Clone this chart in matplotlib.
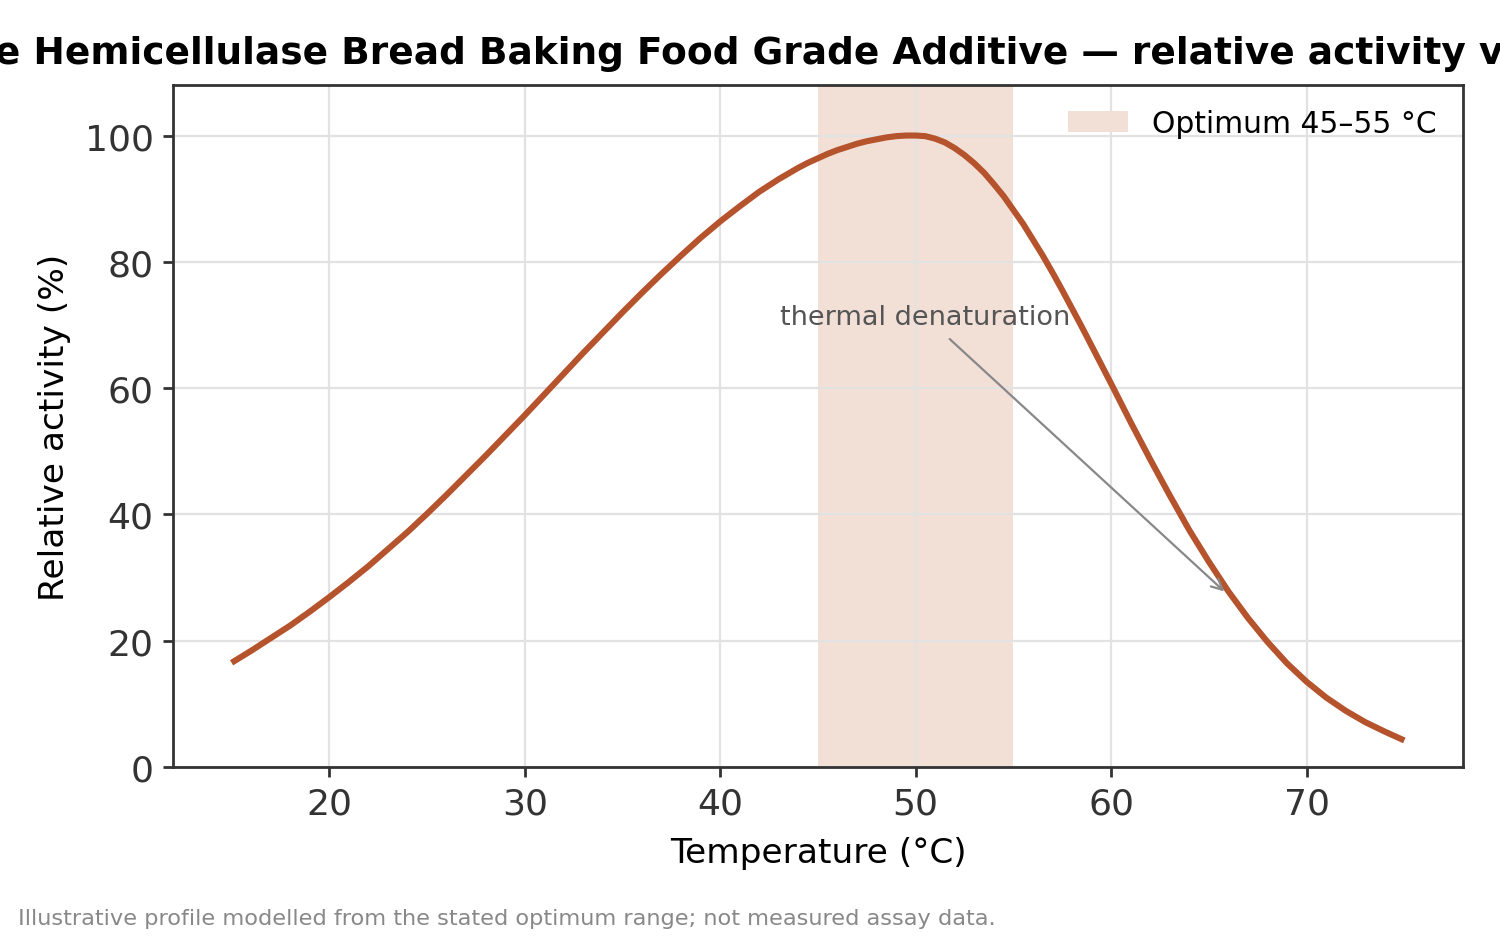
import matplotlib
matplotlib.use("Agg")
import matplotlib.pyplot as plt

# ---- data ----
temperature_c = [15, 16, 17, 18, 19, 20, 21, 22, 23, 24, 25, 26, 27, 28, 29, 30,
                 31, 32, 33, 34, 35, 36, 37, 38, 39, 40, 41, 42, 43, 44, 44.5,
                 45, 45.5, 46, 46.5, 47, 47.5, 48, 48.5, 49, 49.5, 50,
                 50.5, 51, 51.5, 52, 52.5, 53, 53.5, 54, 54.5, 55, 55.5, 56,
                 56.5, 57, 57.5, 58, 58.5, 59, 59.5, 60,
                 61, 62, 63, 64, 65, 66, 67, 68, 69, 70, 71, 72, 73, 74, 75]
relative_activity = [16.5, 18.4, 20.4, 22.4, 24.6, 26.9, 29.3, 31.8, 34.5, 37.2,
                     40.1, 43.1, 46.2, 49.3, 52.5, 55.7, 59.0, 62.3, 65.6, 68.8,
                     72.0, 75.1, 78.1, 81.0, 83.8, 86.4, 88.8, 91.1, 93.1, 94.9,
                     95.7, 96.4, 97.1, 97.7, 98.2, 98.7, 99.1, 99.4, 99.7, 99.9,
                     100.0, 100.0,
                     99.9, 99.5, 98.9, 98.0, 96.9, 95.6, 94.1, 92.3, 90.4, 88.2,
                     86.0, 83.5, 81.0, 78.3, 75.5, 72.6, 69.7, 66.7, 63.7, 60.7,
                     54.6, 48.7, 43.0, 37.5, 32.5, 27.8, 23.6, 19.8, 16.4, 13.5,
                     11.0, 8.9, 7.1, 5.6, 4.2]
optimum_range = [45, 55]
annot_target = [66, 27.2]
annot_text_pos = [50.5, 71.3]
x_ticks = [20, 30, 40, 50, 60, 70]
y_ticks = [0, 20, 40, 60, 80, 100]

title = ("Xylanase Hemicellulase Bread Baking Food Grade Additive \u2014 "
         "relative activity vs temperature")
line_color = "#b5532d"

fig = plt.figure(figsize=(7.5, 4.685), dpi=200)
ax = fig.add_subplot(111)
fig.subplots_adjust(left=0.1153, right=0.9753, top=0.9082, bottom=0.1804)

ax.set_axisbelow(True)
ax.grid(True, color="#e2e2e2", linewidth=0.8)

ax.axvspan(optimum_range[0], optimum_range[1], color="#f2e0d7",
           linewidth=0, zorder=0.3,
           label=f"Optimum {optimum_range[0]}\u2013{optimum_range[1]} \u00b0C")
ax.plot(temperature_c, relative_activity, color=line_color, linewidth=2.2,
        zorder=3, solid_capstyle="butt", solid_joinstyle="round")

ax.annotate("thermal denaturation", xy=annot_target, xytext=annot_text_pos,
            ha="center", va="center", fontsize=9.75, color="#555555",
            arrowprops=dict(arrowstyle="->", color="#888888", lw=0.8),
            zorder=4)

ax.set_xlim(12, 78)
ax.set_ylim(0, 108)
ax.set_xticks(x_ticks)
ax.set_yticks(y_ticks)
ax.tick_params(axis="both", labelsize=13, colors="#333333", length=3.5,
               width=1.0)
for sp in ax.spines.values():
    sp.set_color("#333333")
    sp.set_linewidth(1.0)

ax.set_xlabel("Temperature (\u00b0C)", fontsize=12.4, color="black",
              labelpad=5.5)
ax.set_ylabel("Relative activity (%)", fontsize=12.4, color="black",
              labelpad=5.0)
ax.set_title(title, fontsize=13.5, fontweight="bold", color="black", pad=8.1)

ax.legend(loc="upper right", bbox_to_anchor=(1.0, 1.0045), frameon=False,
          fontsize=10.7)

fig.text(0.012, 0.009, "Illustrative profile modelled from the stated optimum "
         "range; not measured assay data.", fontsize=8.1, color="#888888",
         ha="left", va="bottom")

fig.savefig("out.png", dpi=200)
